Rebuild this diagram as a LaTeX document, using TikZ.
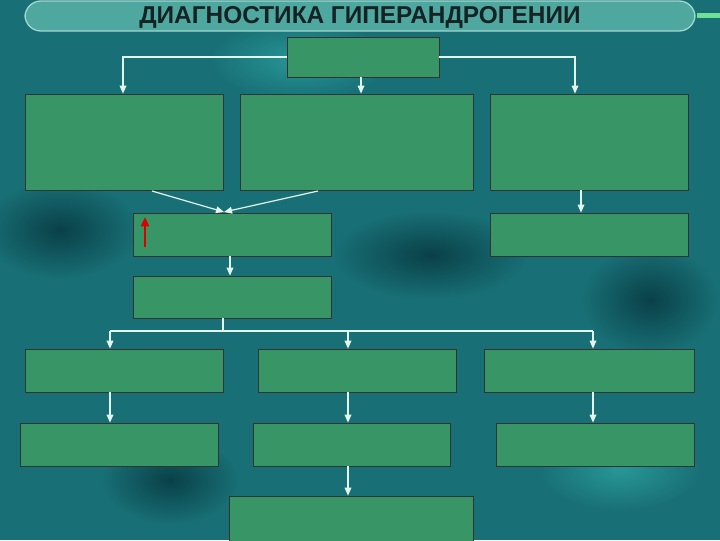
\documentclass[tikz,border=0pt]{standalone}
\usepackage{fontspec}
\setmainfont{Liberation Sans}
\usetikzlibrary{fit,arrows.meta}
\definecolor{bgteal}{RGB}{24,112,118}
\definecolor{bgdark}{RGB}{10,64,72}
\definecolor{bglight}{RGB}{40,150,150}
\definecolor{boxgreen}{RGB}{56,150,102}
\definecolor{barteal}{RGB}{78,168,160}
\definecolor{barline}{RGB}{160,215,205}
\definecolor{arrowwhite}{RGB}{225,245,235}
\definecolor{titletext}{RGB}{22,34,36}
\definecolor{tickgreen}{RGB}{110,225,150}
\tikzset{
  box/.style={draw=black!80, line width=0.5pt, fill=boxgreen, inner sep=0pt},
  arr/.style={draw=arrowwhite, line width=0.9pt, -{Triangle[width=5pt,length=6pt]}},
  lin/.style={draw=arrowwhite, line width=0.9pt},
  blob/.style={inner color=#1, outer color=bgteal}
}
\begin{document}
\begin{tikzpicture}[x=0.75pt,y=0.75pt,yscale=-1,xscale=1]
% background
\fill[bgteal] (0,0) rectangle (720,540);
\useasboundingbox (0,0) rectangle (720,540);
\shade[blob=bgdark] (60,230) ellipse (80 and 50);
\shade[blob=bgdark] (430,255) ellipse (100 and 45);
\shade[blob=bgdark] (650,300) ellipse (70 and 55);
\shade[blob=bgdark] (170,480) ellipse (70 and 45);
\shade[blob=bglight] (300,60) ellipse (90 and 40);
\shade[blob=bglight] (620,470) ellipse (80 and 40);
% title bar
\draw[draw=barline, fill=barteal, line width=1pt, rounded corners=12] (25,1) rectangle (695,31);
\fill[tickgreen] (697,13) rectangle (720,18);
\node[text=titletext, font=\fontsize{18.3}{20}\selectfont\bfseries] (title) at (360,17) {ДИАГНОСТИКА ГИПЕРАНДРОГЕНИИ};
% boxes
\node[box, fit={(287,37) (439,77)}] (top) {};
\node[box, fit={(25,94) (223,190)}] (la) {};
\node[box, fit={(240,94) (473,190)}] (lb) {};
\node[box, fit={(490,94) (688,190)}] (lc) {};
\node[box, fit={(133,213) (331,256)}] (md) {};
\node[box, fit={(490,213) (688,256)}] (me) {};
\node[box, fit={(133,276) (331,318)}] (mf) {};
\node[box, fit={(25,349) (223,392)}] (ga) {};
\node[box, fit={(258,349) (456,392)}] (gb) {};
\node[box, fit={(484,349) (694,392)}] (gc) {};
\node[box, fit={(20,423) (218,466)}] (ha) {};
\node[box, fit={(253,423) (450,466)}] (hb) {};
\node[box, fit={(496,423) (694,466)}] (hc) {};
\node[box, fit={(229,496) (473,545)}] (fin) {};
% helper points
\coordinate (xa) at (123,0);
\coordinate (xb) at (361,0);
\coordinate (xc) at (575,0);
\coordinate (xe) at (581,0);
\coordinate (xf) at (230,0);
\coordinate (fork) at (223,331);
\coordinate (k1) at (110,331);
\coordinate (k2) at (348,331);
\coordinate (k3) at (593,331);
\coordinate (sa) at (152,191);
\coordinate (sb) at (318,191);
\coordinate (tip) at (224,212);
% connectors
\draw[arr] (top.west) -| (xa |- la.north);
\draw[arr] (top.east) -| (xc |- lc.north);
\draw[arr] (xb |- top.south) -- (xb |- lb.north);
\draw[arr] (sa) -- (tip);
\draw[arr] (sb) -- (tip);
\draw[arr] (xe |- lc.south) -- (xe |- me.north);
\draw[arr] (xf |- md.south) -- (xf |- mf.north);
\draw[lin] (fork |- mf.south) -- (fork);
\draw[lin] (k1) -- (k3);
\draw[arr] (k1) -- (k1 |- ga.north);
\draw[arr] (k2) -- (k2 |- gb.north);
\draw[arr] (k3) -- (k3 |- gc.north);
\draw[arr] (k1 |- ga.south) -- (k1 |- ha.north);
\draw[arr] (k2 |- gb.south) -- (k2 |- hb.north);
\draw[arr] (k3 |- gc.south) -- (k3 |- hc.north);
\draw[arr] (k2 |- hb.south) -- (k2 |- fin.north);
% red arrow
\coordinate (ra) at (145,247);
\coordinate (rb) at (145,217);
\draw[draw=red!85!black, line width=2pt, -{Triangle[width=6pt,length=7pt]}] (ra) -- (rb);
\end{tikzpicture}
\end{document}
